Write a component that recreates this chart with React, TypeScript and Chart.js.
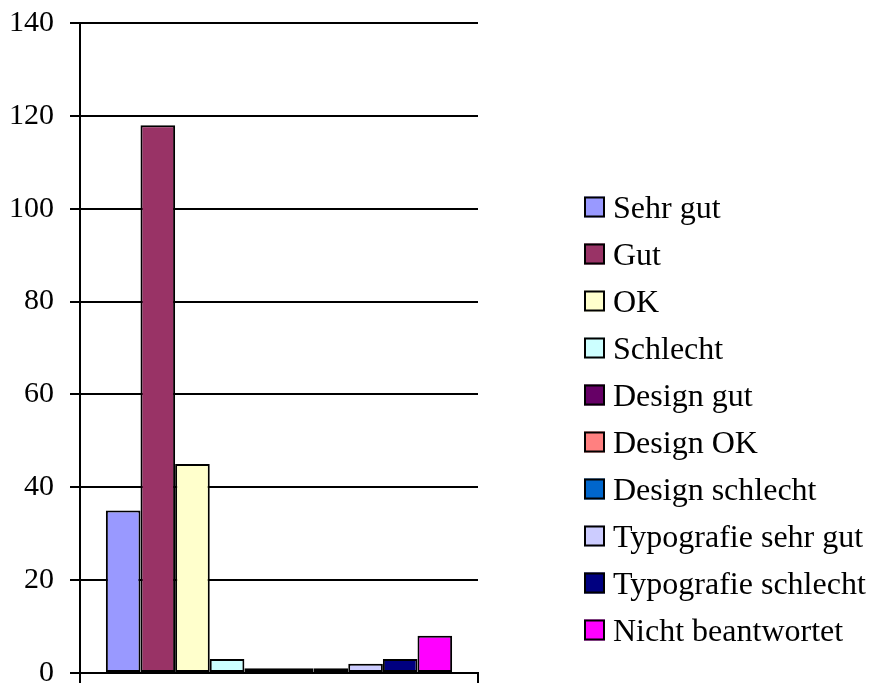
import React, { useEffect, useRef } from "react";
import { Chart, registerables } from "chart.js";

Chart.register(...registerables);

const categories = [""];
const seriesNames = [
  "Sehr gut",
  "Gut",
  "OK",
  "Schlecht",
  "Design gut",
  "Design OK",
  "Design schlecht",
  "Typografie sehr gut",
  "Typografie schlecht",
  "Nicht beantwortet",
];
const seriesValues = [35, 118, 45, 3, 1, 1, 1, 2, 3, 8];
const seriesColors = [
  "#9999FF",
  "#993366",
  "#FFFFCC",
  "#CCFFFF",
  "#660066",
  "#FF8080",
  "#0066CC",
  "#CCCCFF",
  "#000080",
  "#FF00FF",
];
const yMin = 0;
const yMax = 140;
const yStep = 20;

const FONT = "'Liberation Serif', 'Times New Roman', serif";

const legendPlugin = {
  id: "excelLegend",
  afterDraw(chart: any, _args: any, opts: any) {
    const ctx = chart.ctx;
    const ds = chart.data.datasets;
    ctx.save();
    ctx.font = `${opts.fontSize}px ${FONT}`;
    ctx.textBaseline = "alphabetic";
    ctx.textAlign = "left";
    ds.forEach((d: any, i: number) => {
      const cy = opts.top + opts.spacing * i;
      const bx = opts.left;
      const by = cy - opts.box / 2;
      ctx.fillStyle = d.backgroundColor;
      ctx.fillRect(bx, by, opts.box, opts.box);
      ctx.lineWidth = 2;
      ctx.strokeStyle = "#000";
      ctx.strokeRect(bx + 1, by + 1, opts.box - 2, opts.box - 2);
      ctx.fillStyle = "#000";
      ctx.fillText(d.label, bx + opts.box + opts.gap, cy + opts.baselineOffset);
    });
    ctx.restore();
  },
};

export default function App() {
  const ref = useRef<HTMLCanvasElement | null>(null);

  useEffect(() => {
    if (!ref.current) return;
    const chart = new Chart(ref.current, {
      type: "bar",
      data: {
        labels: categories,
        datasets: seriesNames.map((name, i) => ({
          label: name,
          data: [seriesValues[i]],
          backgroundColor: seriesColors[i],
          borderColor: "#000",
          borderWidth: 2,
          borderSkipped: false,
          categoryPercentage: 0.87,
          barPercentage: 1,
        })),
      },
      options: {
        animation: false,
        responsive: true,
        maintainAspectRatio: false,
        layout: { padding: { left: 0, top: 23, right: 391, bottom: 0 } },
        plugins: {
          legend: { display: false },
          tooltip: { enabled: false },
          excelLegend: {
            left: 584,
            top: 207,
            spacing: 47,
            box: 21,
            gap: 8,
            fontSize: 32,
            baselineOffset: 11,
          },
        } as any,
        scales: {
          x: {
            ticks: { display: false },
            grid: {
              display: true,
              drawOnChartArea: false,
              drawTicks: true,
              tickLength: 10,
              offset: true,
              color: "#000",
              lineWidth: 2,
            },
            border: { display: true, color: "#000", width: 2 },
            afterFit: (s: any) => {
              s.height = 13;
              s.paddingLeft = 0;
              s.paddingRight = 0;
            },
          },
          y: {
            min: yMin,
            max: yMax,
            ticks: {
              stepSize: yStep,
              color: "#000",
              font: { family: FONT, size: 30 },
              padding: 16,
            },
            grid: {
              color: "#000",
              lineWidth: 2,
              tickLength: 10,
              drawTicks: true,
            },
            border: { display: true, color: "#000", width: 2 },
            afterFit: (s: any) => {
              s.width = 80;
              s.paddingTop = 0;
              s.paddingBottom = 0;
            },
          },
        },
      },
      plugins: [legendPlugin],
    });
    return () => chart.destroy();
  }, []);

  return (
    <div
      style={{
        position: "absolute",
        left: 0,
        top: 0,
        width: 869,
        height: 686,
        background: "#fff",
      }}
    >
      <canvas ref={ref} />
    </div>
  );
}
